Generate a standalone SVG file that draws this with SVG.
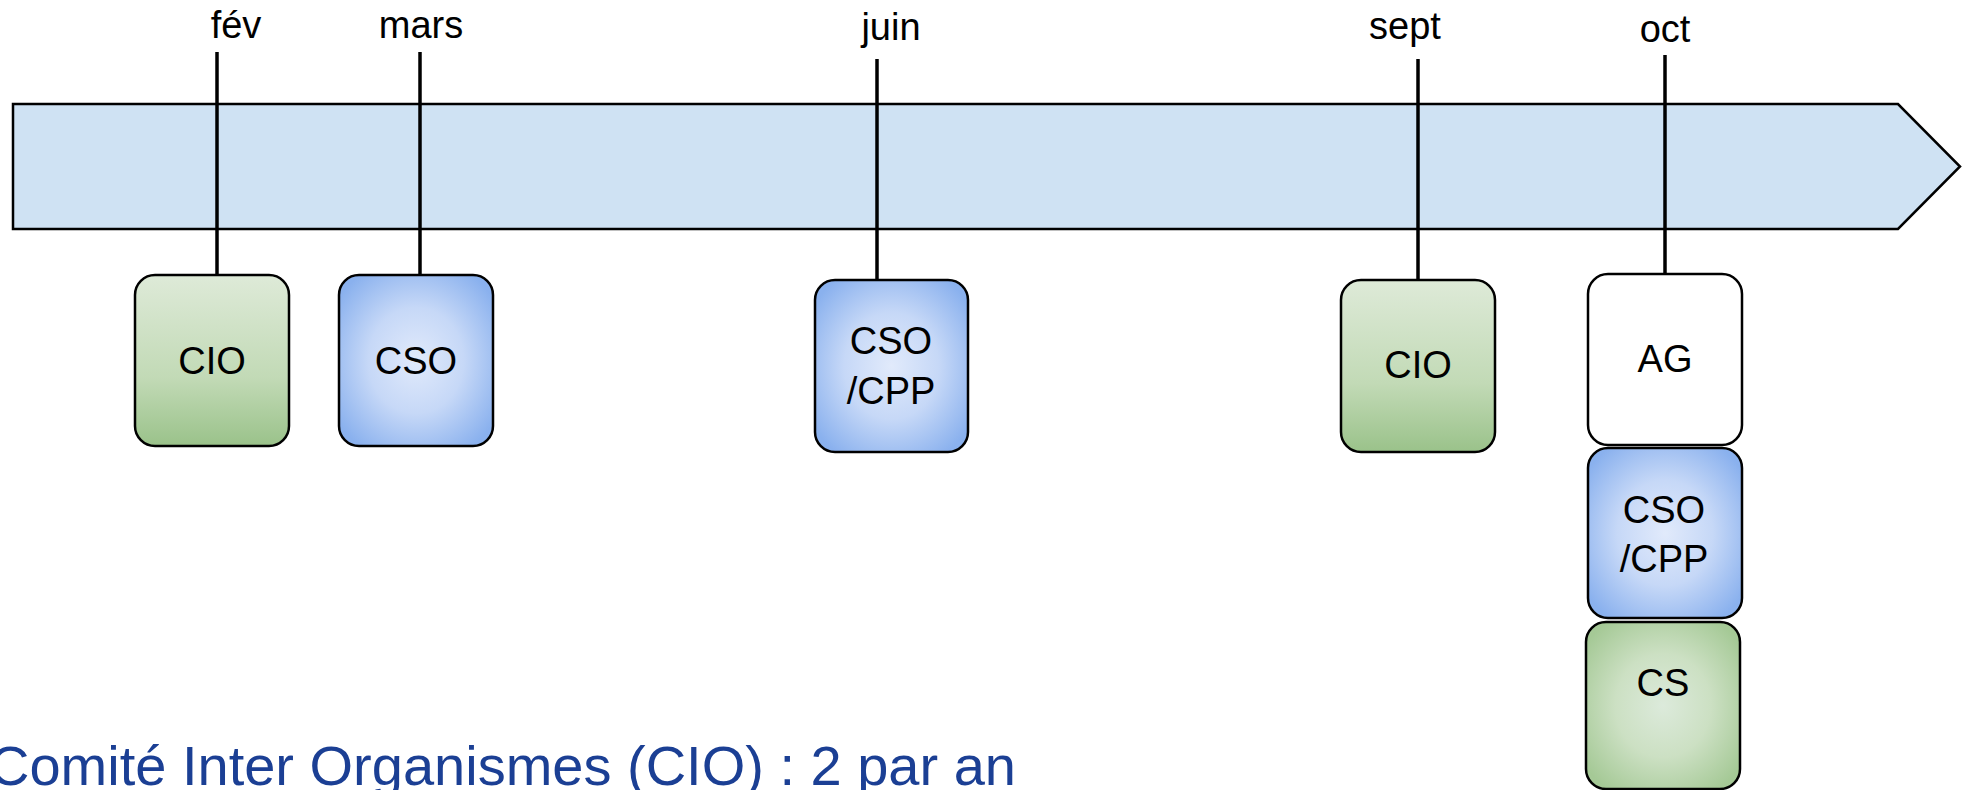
<svg xmlns="http://www.w3.org/2000/svg" width="1964" height="790" viewBox="0 0 1964 790">
<defs>
<linearGradient id="gLin" x1="0" y1="0" x2="0" y2="1">
<stop offset="0" stop-color="#deead8"/>
<stop offset="0.6" stop-color="#c2dab6"/>
<stop offset="1" stop-color="#9ac28a"/>
</linearGradient>
<radialGradient id="bRad" cx="0.5" cy="0.5" r="0.62">
<stop offset="0" stop-color="#e1eafb"/>
<stop offset="0.5" stop-color="#c6d8f7"/>
<stop offset="1" stop-color="#8ab1ee"/>
</radialGradient>
<radialGradient id="gRad" cx="0.5" cy="0.5" r="0.62">
<stop offset="0" stop-color="#dceadb"/>
<stop offset="0.5" stop-color="#cce0c3"/>
<stop offset="1" stop-color="#a5c996"/>
</radialGradient>
<style>
.box{stroke:#000;stroke-width:2.5}
.lbl{font-family:"Liberation Sans",Arial,sans-serif;font-size:38px;fill:#000;text-anchor:middle}
.tick{stroke:#000;stroke-width:3.5;fill:none}
.note{font-family:"Liberation Sans",Arial,sans-serif;font-size:56px;fill:#1b3f94}
</style>
</defs>
<rect width="1964" height="790" fill="#fff"/>
<g id="band">
<path d="M13 104 H1898 L1960 166.5 L1898 229 H13 Z" fill="#cfe2f3" stroke="#000" stroke-width="2.5"/>
</g>
<g id="connectors">
<line class="tick" x1="217" y1="52" x2="217" y2="275"/>
<line class="tick" x1="420" y1="52" x2="420" y2="275"/>
<line class="tick" x1="877" y1="59" x2="877" y2="280"/>
<line class="tick" x1="1418" y1="59" x2="1418" y2="280"/>
<line class="tick" x1="1665" y1="55" x2="1665" y2="274"/>
</g>
<g id="months">
<text class="lbl" x="236" y="38">fév</text>
<text class="lbl" x="421" y="38">mars</text>
<text class="lbl" x="891" y="40">juin</text>
<text class="lbl" x="1405" y="39">sept</text>
<text class="lbl" x="1665" y="42">oct</text>
</g>
<g id="node-fev-cio">
<rect class="box" x="135" y="275" width="154" height="171" rx="20" fill="url(#gLin)"/>
<text class="lbl" x="212" y="374">CIO</text>
</g>
<g id="node-mars-cso">
<rect class="box" x="339" y="275" width="154" height="171" rx="20" fill="url(#bRad)"/>
<text class="lbl" x="416" y="374">CSO</text>
</g>
<g id="node-juin-cso-cpp">
<rect class="box" x="815" y="280" width="153" height="172" rx="20" fill="url(#bRad)"/>
<text class="lbl" x="891" y="354">CSO</text>
<text class="lbl" x="891" y="404">/CPP</text>
</g>
<g id="node-sept-cio">
<rect class="box" x="1341" y="280" width="154" height="172" rx="20" fill="url(#gLin)"/>
<text class="lbl" x="1418" y="378">CIO</text>
</g>
<g id="node-oct-ag">
<rect class="box" x="1588" y="274" width="154" height="171" rx="20" fill="#fff"/>
<text class="lbl" x="1665" y="372">AG</text>
</g>
<g id="node-oct-cso-cpp">
<rect class="box" x="1588" y="448" width="154" height="170" rx="20" fill="url(#bRad)"/>
<text class="lbl" x="1664" y="523">CSO</text>
<text class="lbl" x="1664" y="572">/CPP</text>
</g>
<g id="node-oct-cs">
<rect class="box" x="1586" y="622" width="154" height="167" rx="20" fill="url(#gRad)"/>
<text class="lbl" x="1663" y="696">CS</text>
</g>
<g id="caption">
<text class="note" x="-11" y="785">Comité Inter Organismes (CIO) : 2 par an</text>
</g>
</svg>
